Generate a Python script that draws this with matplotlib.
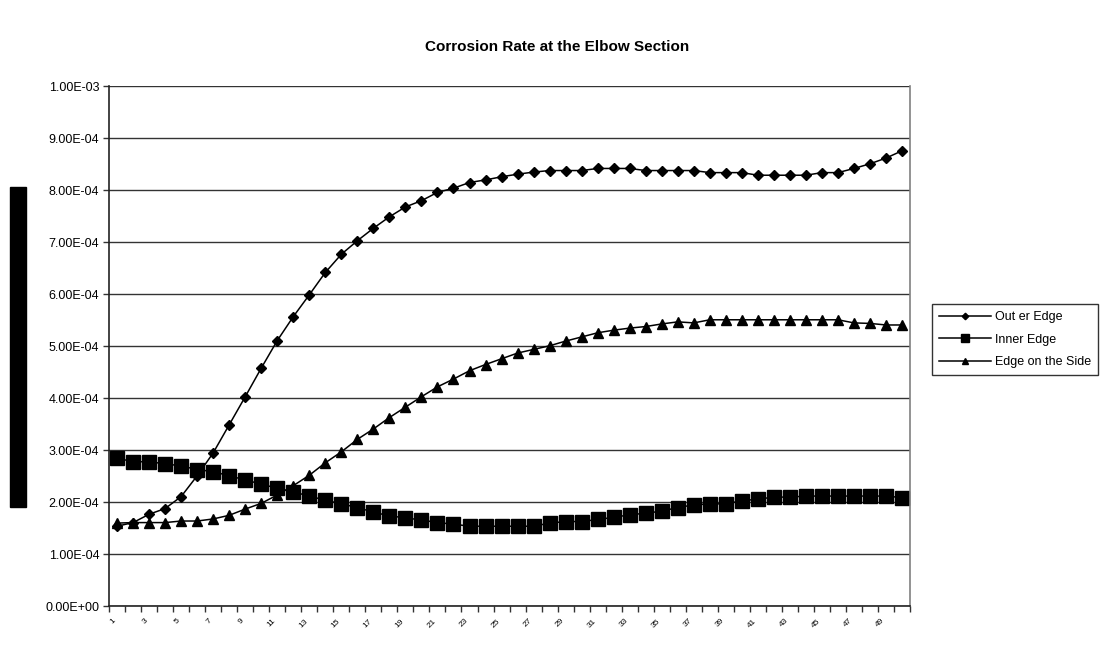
import matplotlib
matplotlib.use("Agg")
import matplotlib.pyplot as plt
from matplotlib.patches import Rectangle
import numpy as np

plt.rcParams['font.family'] = ['Liberation Sans', 'DejaVu Sans']

categories = list(range(1, 51))

outer_edge = [1.54, 1.61, 1.77, 1.88, 2.11, 2.51, 2.95, 3.49, 4.03, 4.58,
              5.11, 5.57, 5.99, 6.42, 6.77, 7.03, 7.27, 7.49, 7.68, 7.80,
              7.96, 8.04, 8.15, 8.20, 8.26, 8.31, 8.35, 8.38, 8.38, 8.38,
              8.42, 8.42, 8.42, 8.38, 8.38, 8.38, 8.38, 8.34, 8.34, 8.34,
              8.29, 8.29, 8.29, 8.29, 8.34, 8.34, 8.42, 8.51, 8.62, 8.76]
inner_edge = [2.85, 2.78, 2.78, 2.74, 2.70, 2.63, 2.59, 2.51, 2.43, 2.35,
              2.27, 2.20, 2.12, 2.04, 1.97, 1.90, 1.81, 1.74, 1.70, 1.66,
              1.61, 1.58, 1.54, 1.54, 1.54, 1.54, 1.54, 1.60, 1.63, 1.63,
              1.67, 1.71, 1.76, 1.79, 1.83, 1.90, 1.95, 1.97, 1.97, 2.03,
              2.06, 2.10, 2.10, 2.12, 2.12, 2.12, 2.12, 2.12, 2.12, 2.09]
edge_side = [1.60, 1.61, 1.61, 1.61, 1.64, 1.64, 1.68, 1.75, 1.87, 1.98,
             2.14, 2.32, 2.52, 2.76, 2.97, 3.21, 3.41, 3.63, 3.83, 4.03,
             4.22, 4.37, 4.53, 4.65, 4.76, 4.87, 4.94, 5.01, 5.10, 5.18,
             5.26, 5.31, 5.35, 5.38, 5.43, 5.47, 5.45, 5.51, 5.51, 5.51,
             5.51, 5.51, 5.51, 5.51, 5.51, 5.51, 5.45, 5.44, 5.41, 5.41]

scale = 1e-4
y_ticks = [i * 1e-4 for i in range(0, 11)]
y_tick_labels = ["%.2E" % v for v in y_ticks]
x_tick_labels = [str(c) for c in categories[::2]]

fig = plt.figure(figsize=(11.15, 6.45), dpi=100)
ax = fig.add_axes([0.0978, 0.06, 0.7184, 0.8062])

x = np.arange(len(categories))
ax.plot(x, np.array(outer_edge) * scale, color='black', lw=1.1, marker='D',
        ms=5.5, label='Out er Edge')
ax.plot(x, np.array(inner_edge) * scale, color='black', lw=1.1, marker='s',
        ms=9.5, label='Inner Edge')
ax.plot(x, np.array(edge_side) * scale, color='black', lw=1.1, marker='^',
        ms=7.5, label='Edge on the Side')

ax.set_xlim(-0.5, len(categories) - 0.5)
ax.set_ylim(0, 1e-3)
ax.set_yticks(y_ticks)
ax.set_yticklabels(y_tick_labels, fontsize=9)
ax.yaxis.grid(True, color='#333333', lw=1.0)
ax.set_axisbelow(True)

# category boundary ticks
ax.set_xticks(np.arange(-0.5, len(categories), 1.0))
ax.set_xticklabels([])
ax.set_xticks(x[::2], minor=True)
ax.set_xticklabels(x_tick_labels, minor=True, rotation=45, fontsize=6,
                   ha='right', va='top')
ax.tick_params(axis='x', which='minor', length=0, pad=8)
ax.tick_params(axis='x', which='major', length=4, width=1, color='#333333', direction='out')
ax.tick_params(axis='y', length=4, width=1, color='#333333', direction='out', pad=3)

for s in ['left', 'bottom']:
    ax.spines[s].set_color('#222222')
    ax.spines[s].set_linewidth(1.2)
ax.spines['right'].set_color('#808080')
ax.spines['right'].set_linewidth(1.2)
ax.spines['top'].set_visible(False)

fig.text(0.5, 0.927, 'Corrosion Rate at the Elbow Section', ha='center',
         va='center', fontsize=11, fontweight='bold')

# dark bar in place of the y-axis title
fig.patches.append(Rectangle((10 / 1115, 1 - 507 / 645), 16 / 1115, 320 / 645,
                             transform=fig.transFigure, color='black'))

leg = fig.legend(loc='upper left', bbox_to_anchor=(932 / 1115, 1 - 304 / 645),
                 fontsize=9, frameon=True, fancybox=False, edgecolor='black',
                 handlelength=4.2, markerscale=0.6, borderpad=0.55,
                 labelspacing=0.85, handletextpad=0.3, borderaxespad=0)
leg.get_frame().set_linewidth(1.0)

fig.savefig('out.png', dpi=100)
